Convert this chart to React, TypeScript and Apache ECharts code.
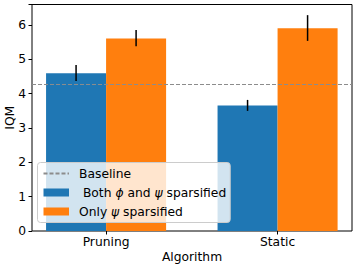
import React, { useEffect, useRef } from "react";
import * as echarts from "echarts";

const categories = ["Pruning", "Static"];
const bothVals = [4.6, 3.66];
const bothLo = [4.37, 3.5];
const bothHi = [4.84, 3.82];
const onlyVals = [5.61, 5.91];
const onlyLo = [5.38, 5.54];
const onlyHi = [5.86, 6.29];
const baseline = 4.28;

const BAR_W = 0.35;
const FONT = "DejaVu Sans";
const FS = 12.3;

function barSeries(name: string, color: string, vals: number[], lo: number[], hi: number[], offset: number) {
  return {
    type: "custom",
    name,
    itemStyle: { color },
    z: 2,
    data: vals.map((v, i) => [i, v, lo[i], hi[i]]),
    encode: { x: 0, y: [1, 2, 3] },
    renderItem: (params: any, api: any) => {
      const x = api.value(0) + offset;
      const v = api.value(1);
      const l = api.value(2);
      const h = api.value(3);
      const p0 = api.coord([x - BAR_W / 2, v]);
      const p1 = api.coord([x + BAR_W / 2, 0]);
      const e0 = api.coord([x, l]);
      const e1 = api.coord([x, h]);
      return {
        type: "group",
        children: [
          {
            type: "rect",
            shape: { x: p0[0], y: p0[1], width: p1[0] - p0[0], height: p1[1] - p0[1] },
            style: { fill: color },
          },
          {
            type: "line",
            shape: { x1: e0[0], y1: e0[1], x2: e1[0], y2: e1[1] },
            style: { stroke: "#000", lineWidth: 1.5 },
          },
        ],
      };
    },
  };
}

export default function App() {
  const ref = useRef<HTMLDivElement>(null);
  useEffect(() => {
    const chart = echarts.init(ref.current!, null, { renderer: "svg" });
    chart.setOption({
      animation: false,
      textStyle: { fontFamily: FONT },
      grid: {
        left: 32,
        right: 5,
        top: 4.5,
        bottom: 36,
        show: true,
        borderColor: "#000",
        borderWidth: 1,
        backgroundColor: "transparent",
        containLabel: false,
        outerBoundsMode: "none",
      },
      xAxis: {
        type: "value",
        min: -0.432,
        max: 1.434,
        name: "Algorithm",
        nameLocation: "middle",
        nameGap: 20,
        nameMoveOverlap: false,
        nameTextStyle: { fontFamily: FONT, fontSize: FS, color: "#000", verticalAlign: "top" },
        axisLine: { show: false, onZero: false },
        splitLine: { show: false },
        axisTick: { show: true, length: 3.5, customValues: [0, 1], lineStyle: { color: "#000", width: 1 } },
        axisLabel: {
          customValues: [0, 1],
          formatter: (v: number) => categories[Math.round(v)] ?? "",
          fontFamily: FONT,
          fontSize: FS,
          color: "#000",
          margin: 5,
        },
      },
      yAxis: {
        type: "value",
        min: 0,
        max: 6.6,
        interval: 1,
        name: "IQM",
        nameLocation: "middle",
        nameGap: 16,
        nameMoveOverlap: false,
        nameTextStyle: { fontFamily: FONT, fontSize: FS, color: "#000" },
        axisLine: { show: false, onZero: false },
        splitLine: { show: false },
        axisTick: { show: true, length: 3.5, lineStyle: { color: "#000", width: 1 } },
        axisLabel: {
          formatter: (v: number) => (Math.abs(v - Math.round(v)) < 1e-9 ? String(v) : ""),
          fontFamily: FONT,
          fontSize: FS,
          color: "#000",
          margin: 6,
        },
      },
      legend: {
        orient: "vertical",
        left: 37.5,
        top: 162.5,
        itemWidth: 25.5,
        itemHeight: 8,
        itemGap: 5,
        padding: [4, 4, 4, 5],
        backgroundColor: "rgba(255,255,255,0.8)",
        borderColor: "#cccccc",
        borderWidth: 1,
        borderRadius: 3,
        data: [
          { name: "Baseline", itemStyle: { opacity: 0 } },
          { name: "Both", icon: "rect" },
          { name: "Only", icon: "rect" },
        ],
        formatter: (name: string) => {
          if (name === "Both") return " Both {i|ϕ} and {i|ψ} sparsified";
          if (name === "Only") return "Only {i|ψ} sparsified";
          return name;
        },
        textStyle: {
          fontFamily: FONT,
          fontSize: FS,
          color: "#000",
          lineHeight: 14,
          padding: [0, 0, 0, 5],
          rich: {
            i: { fontFamily: FONT, fontStyle: "italic", fontSize: FS, color: "#000" },
          },
        },
      },
      series: [
        {
          type: "line",
          name: "Baseline",
          data: [],
          symbol: "none",
          showSymbol: false,
          z: 5,
          itemStyle: { color: "#8c8c8c" },
          lineStyle: { color: "#8c8c8c", type: [4, 2], width: 1.2 },
          markLine: {
            silent: true,
            symbol: ["none", "none"],
            label: { show: false },
            lineStyle: { color: "#8c8c8c", type: [4, 2], width: 1.2 },
            data: [{ yAxis: baseline }],
          },
        },
        barSeries("Both", "#1f77b4", bothVals, bothLo, bothHi, -BAR_W / 2),
        barSeries("Only", "#ff7f0e", onlyVals, onlyLo, onlyHi, BAR_W / 2),
      ],
    });
    return () => chart.dispose();
  }, []);
  return <div ref={ref} style={{ width: 357, height: 267, position: "absolute", left: 0, top: 0 }} />;
}
